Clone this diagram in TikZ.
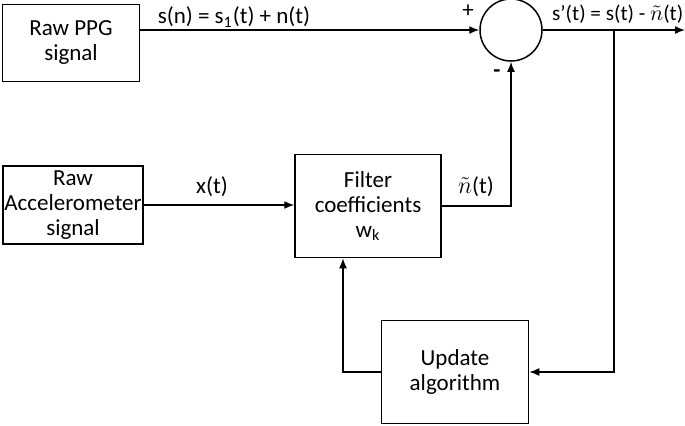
\documentclass[tikz,border=0pt]{standalone}
\usepackage{fontspec}
\setmainfont{Carlito}
\usepackage{amsmath}
\usetikzlibrary{arrows.meta,positioning,calc}

\begin{document}
\begin{tikzpicture}
[x=0.5pt,y=-0.5pt, >={Latex[length=5pt,width=4pt]}, line width=0.75pt,
font=\fontsize{11.5}{12.5}\selectfont,
blk/.style={draw,rectangle,align=center,inner sep=0pt},
sumnode/.style={draw,circle,minimum size=31pt,inner sep=0pt},
lbl/.style={inner sep=1pt}]
\useasboundingbox (0,0) rectangle (685,425);

\node (ppg) at (71,43)[blk,minimum width=68.5pt,minimum height=38.5pt] {Raw PPG\\signal};
\node (acc) at (73,205)[blk,minimum width=70pt,minimum height=39pt] {Raw\\Accelerometer\\signal};
\node (filt) at (368,206)[blk,minimum width=73pt,minimum height=51.5pt] {Filter\\coefficients\\w\textsubscript{k}};
\node (upd) at (455,372)[blk,minimum width=73.5pt,minimum height=51.5pt] {Update\\algorithm};
\node (sum) at (511,30)[sumnode] {};
\coordinate (br) at (614,30);
\coordinate (out) at (685,30);

\draw[->] (ppg.east |- sum.west) -- (sum.west);
\draw[->] (sum.east) -- (out);
\draw[->] (acc.east) -- (acc.east -| filt.west);
\draw[->] (filt.east) -| (sum.south);
\draw[->] (br) |- (upd.east);
\draw[->] (upd.west) -| ([xshift=-12.5pt]filt.south);

\node (lbls) at (234,17)[lbl] {s(n) = s\textsubscript{1}(t) + n(t)};
\node (plus) at (468,11)[lbl] {+};
\node (minus) at (497,74)[lbl] {\textbf{-}};
\node (lblo) at (684,14)[lbl,anchor=east,inner sep=0pt,font=\fontsize{10.6}{12}\selectfont] {s’(t) = s(t) - $\tilde{n}$(t)};
\node (lblx) at (212,187)[lbl] {x(t)};
\node (lbln) at (476,187)[lbl] {$\tilde{n}$(t)};
\end{tikzpicture}
\end{document}
